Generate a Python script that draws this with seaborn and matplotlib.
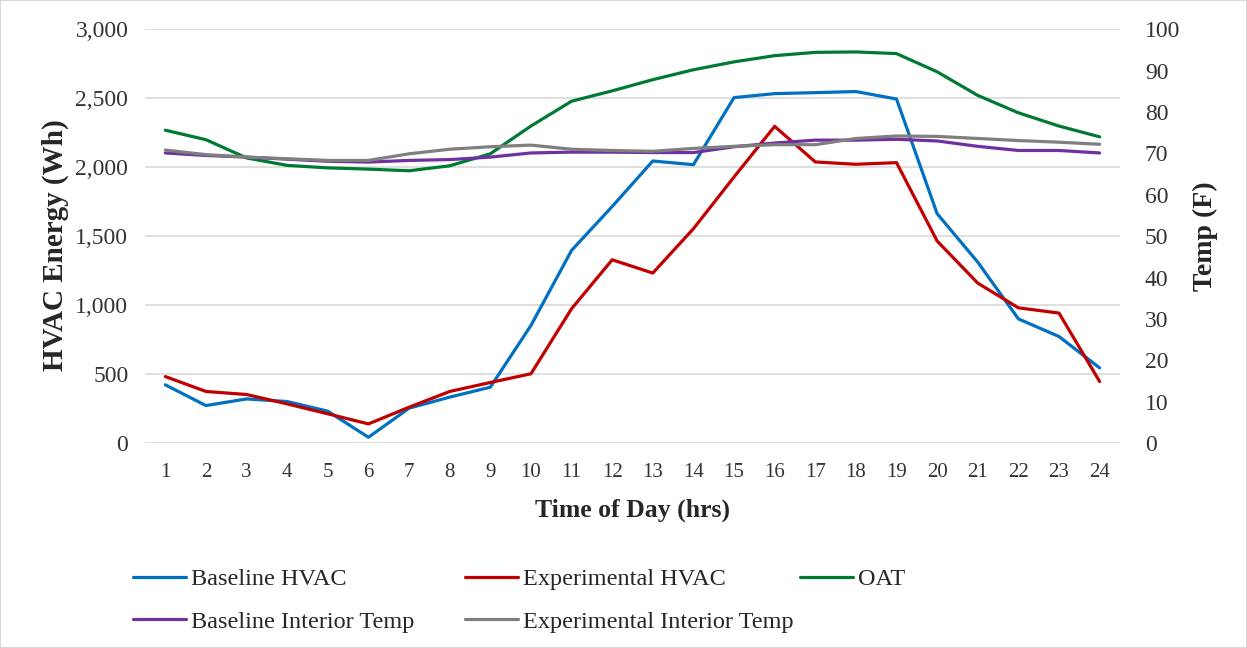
import pandas as pd
import matplotlib.pyplot as plt
import seaborn as sns

# Dữ liệu theo giờ trong ngày
hours = list(range(1, 25))
baseline_hvac = [423, 273, 321, 302, 232, 43, 254, 334, 406, 853, 1397, 1715,
                 2045, 2018, 2504, 2533, 2540, 2548, 2494, 1663, 1312, 901, 773, 546]
experimental_hvac = [483, 375, 353, 285, 213, 140, 261, 375, 440, 503, 974, 1329,
                     1233, 1554, 1929, 2296, 2038, 2021, 2033, 1465, 1160, 981, 943, 447]
oat = [75.6, 73.3, 68.9, 67.1, 66.5, 66.2, 65.8, 67.0, 69.9, 76.6, 82.6, 85.1,
       87.8, 90.2, 92.1, 93.6, 94.4, 94.5, 94.1, 89.7, 84.0, 79.8, 76.6, 74.0]
baseline_temp = [70.1, 69.5, 69.1, 68.6, 68.1, 67.9, 68.3, 68.5, 69.1, 70.1, 70.3, 70.3,
                 70.2, 70.2, 71.6, 72.5, 73.2, 73.2, 73.4, 73.0, 71.7, 70.7, 70.7, 70.1]
experimental_temp = [70.8, 69.7, 69.1, 68.7, 68.3, 68.3, 69.9, 71.0, 71.6, 72.0, 71.0, 70.7,
                     70.5, 71.2, 71.7, 72.1, 72.1, 73.6, 74.2, 74.1, 73.6, 73.1, 72.7, 72.2]

df = pd.DataFrame({
    'hour': hours,
    'Baseline HVAC': baseline_hvac,
    'Experimental HVAC': experimental_hvac,
    'OAT': oat,
    'Baseline Interior Temp': baseline_temp,
    'Experimental Interior Temp': experimental_temp,
})

sns.set_style('white')
plt.rcParams['font.family'] = ['Liberation Serif', 'DejaVu Serif']

colors = {
    'Baseline HVAC': '#0070C0',
    'Experimental HVAC': '#C00000',
    'OAT': '#007A33',
    'Baseline Interior Temp': '#7030A0',
    'Experimental Interior Temp': '#7F7F7F',
}
lw = 2.3

fig = plt.figure(figsize=(12.47, 6.48), dpi=100)
ax = fig.add_axes([0.1163, 0.316, 0.7818, 0.639])
ax2 = ax.twinx()

for col in ['Baseline HVAC', 'Experimental HVAC']:
    sns.lineplot(data=df, x='hour', y=col, ax=ax, color=colors[col], linewidth=lw, label=col, legend=False)
for col in ['OAT', 'Baseline Interior Temp', 'Experimental Interior Temp']:
    sns.lineplot(data=df, x='hour', y=col, ax=ax2, color=colors[col], linewidth=lw, label=col, legend=False)

ax.set_xlim(0.5, 24.5)
ax.set_ylim(0, 3000)
ax2.set_ylim(0, 100)
ax.set_xticks(hours)
ax.set_yticks(range(0, 3001, 500))
ax.set_yticklabels([f'{v:,}' for v in range(0, 3001, 500)])
ax2.set_yticks(range(0, 101, 10))

ax.grid(True, axis='y', color='#D9D9D9', linewidth=1.2)
ax.set_axisbelow(True)
for a in (ax, ax2):
    for s in a.spines.values():
        s.set_visible(False)
ax.tick_params(axis='y', length=0, labelsize=17, colors='#333333', pad=12)
ax.tick_params(axis='x', length=0, labelsize=15, colors='#333333', pad=14)
ax2.tick_params(axis='y', length=0, labelsize=17, colors='#333333', pad=18)

ax.set_xlabel('Time of Day (hrs)', fontsize=18.5, fontweight='bold', labelpad=12)
ax.set_ylabel('HVAC Energy (Wh)', fontsize=21, fontweight='bold')
ax.yaxis.set_label_coords(-0.078, 0.478)
ax2.set_ylabel('Temp (F)', fontsize=20, fontweight='bold', labelpad=9)

# Chú thích: 3 cột đặt riêng để khớp vị trí
handles = {}
for a in (ax, ax2):
    for ln in a.get_lines():
        handles[ln.get_label()] = ln
legend_cols = [
    (['Baseline HVAC', 'Baseline Interior Temp'], 133),
    (['Experimental HVAC', 'Experimental Interior Temp'], 465),
    (['OAT'], 800),
]
for names, xpx in legend_cols:
    fig.legend([handles[n] for n in names], names, loc='upper left',
               bbox_to_anchor=(xpx / 1247, 1 - 568 / 648), frameon=False,
               fontsize=17.5, handlelength=2.2, handletextpad=0.2,
               labelspacing=0.85, borderpad=0, borderaxespad=0)

fig.patches.append(plt.Rectangle((0, 0), 1, 1, transform=fig.transFigure,
                                 fill=False, edgecolor='#D9D9D9', linewidth=1.5))

plt.savefig('out.png', dpi=100)
